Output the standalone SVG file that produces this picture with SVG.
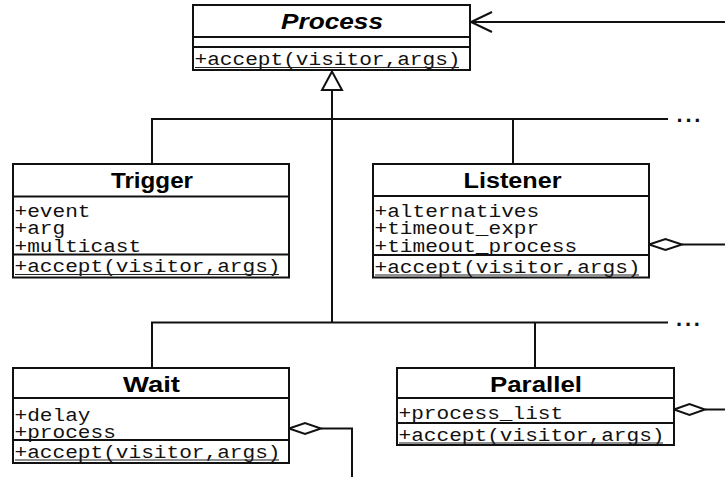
<svg xmlns="http://www.w3.org/2000/svg" width="725" height="477" viewBox="0 0 725 477">
<style>
.box{fill:#fff;stroke:#111;stroke-width:2}
.sep{stroke:#111;stroke-width:1.8;fill:none}
.ul{stroke:#222;stroke-width:1.2}
.title{font-family:"Liberation Sans",Arial,sans-serif;font-weight:bold;font-size:22px;fill:#000;text-anchor:middle}
.mono{font-family:"Liberation Mono","Courier New",monospace;font-size:18px;fill:#111}
.conn{stroke:#111;stroke-width:2;fill:none}
.dia{fill:#fff;stroke:#111;stroke-width:2}
.dots{font-family:"Liberation Sans",Arial,sans-serif;font-weight:bold;font-size:22px;fill:#111;letter-spacing:2.8px}
</style>
<rect width="725" height="477" fill="#fff"/>
<g id="connectors">
<line class="conn" x1="471" y1="22" x2="725" y2="22"/>
<polyline class="conn" points="492,12 471,22 492,32"/>
<polygon class="dia" points="332,71.5 322,90 342,90"/>
<line class="conn" x1="332" y1="90" x2="332" y2="322.5"/>
<polyline class="conn" points="152,164 152,119 668,119"/>
<line class="conn" x1="513" y1="119" x2="513" y2="164"/>
<polyline class="conn" points="152,368 152,322.5 668,322.5"/>
<line class="conn" x1="535" y1="322.5" x2="535" y2="368"/>
<text class="dots" x="676.5" y="121.5">...</text>
<text class="dots" x="676" y="325.5">...</text>
<line class="conn" x1="682" y1="244.5" x2="725" y2="244.5"/>
<polygon class="dia" points="649,244.5 665.5,239 682,244.5 665.5,250"/>
<polyline class="conn" points="321,428.5 352,428.5 352,477"/>
<polygon class="dia" points="289,428.5 305,423 321,428.5 305,434"/>
<line class="conn" x1="705" y1="409.5" x2="725" y2="409.5"/>
<polygon class="dia" points="674,409.5 689.5,404 705,409.5 689.5,415"/>
</g>
<g id="process">
<rect class="box" x="193" y="5" width="277" height="65"/>
<line class="sep" x1="193" y1="37" x2="470" y2="37"/>
<line class="sep" x1="193" y1="47" x2="470" y2="47"/>
<text class="title" x="332" y="28.5" font-style="italic" textLength="102" lengthAdjust="spacingAndGlyphs">Process</text>
<text class="mono" x="194.5" y="65" textLength="266" lengthAdjust="spacingAndGlyphs">+accept(visitor,args)</text>
<line class="ul" x1="195" y1="67.5" x2="459" y2="67.5"/>
</g>
<g id="trigger">
<rect class="box" x="13" y="164" width="276" height="113.5"/>
<line class="sep" x1="13" y1="196.5" x2="289" y2="196.5"/>
<line class="sep" x1="13" y1="254.5" x2="289" y2="254.5"/>
<text class="title" x="152" y="188" textLength="82" lengthAdjust="spacingAndGlyphs">Trigger</text>
<text class="mono" x="14.5" y="216.5" textLength="76" lengthAdjust="spacingAndGlyphs">+event</text>
<text class="mono" x="14.5" y="234" textLength="50.7" lengthAdjust="spacingAndGlyphs">+arg</text>
<text class="mono" x="14.5" y="251.5" textLength="126.7" lengthAdjust="spacingAndGlyphs">+multicast</text>
<text class="mono" x="14.5" y="272" textLength="266" lengthAdjust="spacingAndGlyphs">+accept(visitor,args)</text>
<line class="ul" x1="15" y1="274.5" x2="279" y2="274.5"/>
</g>
<g id="listener">
<rect class="box" x="373" y="164" width="276" height="113.5"/>
<line class="sep" x1="373" y1="196" x2="649" y2="196"/>
<line class="sep" x1="373" y1="255" x2="649" y2="255"/>
<text class="title" x="512.5" y="188" textLength="98" lengthAdjust="spacingAndGlyphs">Listener</text>
<text class="mono" x="374.5" y="216.5" textLength="164.7" lengthAdjust="spacingAndGlyphs">+alternatives</text>
<text class="mono" x="374.5" y="234" textLength="164.7" lengthAdjust="spacingAndGlyphs">+timeout_expr</text>
<text class="mono" x="374.5" y="251.5" textLength="202.7" lengthAdjust="spacingAndGlyphs">+timeout_process</text>
<text class="mono" x="374.5" y="272.5" textLength="266" lengthAdjust="spacingAndGlyphs">+accept(visitor,args)</text>
<line class="ul" x1="375" y1="275" x2="639" y2="275"/>
</g>
<g id="wait">
<rect class="box" x="13" y="368" width="276" height="95"/>
<line class="sep" x1="13" y1="398" x2="289" y2="398"/>
<line class="sep" x1="13" y1="440" x2="289" y2="440"/>
<text class="title" x="151.5" y="391.5" textLength="57" lengthAdjust="spacingAndGlyphs">Wait</text>
<text class="mono" x="14.5" y="420.5" textLength="76" lengthAdjust="spacingAndGlyphs">+delay</text>
<text class="mono" x="14.5" y="437.5" textLength="101.3" lengthAdjust="spacingAndGlyphs">+process</text>
<text class="mono" x="14.5" y="457.5" textLength="266" lengthAdjust="spacingAndGlyphs">+accept(visitor,args)</text>
<line class="ul" x1="15" y1="460" x2="279" y2="460"/>
</g>
<g id="parallel">
<rect class="box" x="397" y="368" width="277" height="77"/>
<line class="sep" x1="397" y1="398" x2="674" y2="398"/>
<line class="sep" x1="397" y1="423" x2="674" y2="423"/>
<text class="title" x="536" y="391.5" textLength="92" lengthAdjust="spacingAndGlyphs">Parallel</text>
<text class="mono" x="398.5" y="419" textLength="164.7" lengthAdjust="spacingAndGlyphs">+process_list</text>
<text class="mono" x="398.5" y="440.5" textLength="266" lengthAdjust="spacingAndGlyphs">+accept(visitor,args)</text>
<line class="ul" x1="399" y1="443" x2="663" y2="443"/>
</g>
</svg>
